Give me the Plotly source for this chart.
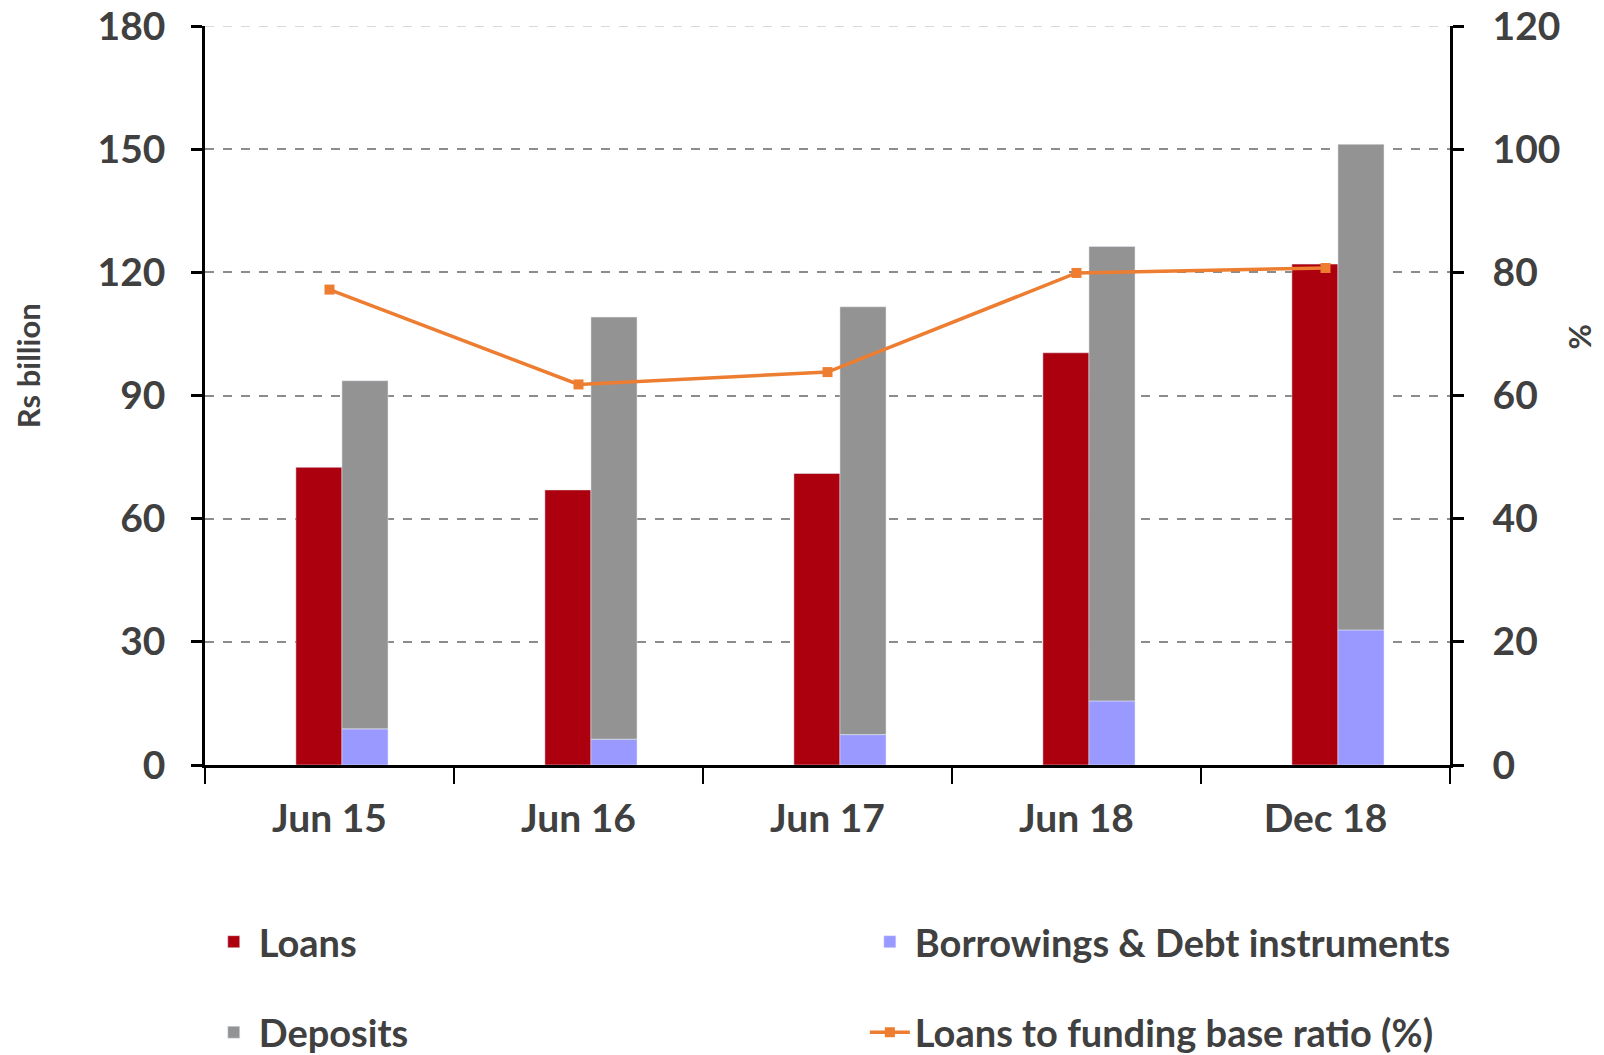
import plotly.graph_objects as go

categories = ["Jun 15", "Jun 16", "Jun 17", "Jun 18", "Dec 18"]
loans = [72.5, 67.0, 71.0, 100.4, 122.0]
borrowings = [8.8, 6.3, 7.4, 15.6, 32.9]
deposits = [84.8, 102.8, 104.2, 110.7, 118.3]
ratio = [77.2, 61.8, 63.8, 79.9, 80.7]

left_ticks = [0, 30, 60, 90, 120, 150, 180]
right_ticks = [0, 20, 40, 60, 80, 100, 120]

FONT = "Lato"
TXT = "#404040"
BW = 0.185
SHIFT = 0.05

fig = go.Figure()
fig.add_trace(go.Bar(x=categories, y=loans, name="Loans", marker_color="#AC000F",
                     width=BW, offset=-BW + SHIFT, legend="legend"))
fig.add_trace(go.Bar(x=categories, y=borrowings, name="Borrowings & Debt instruments",
                     marker_color="#9999FF", width=BW, offset=SHIFT, legend="legend2"))
fig.add_trace(go.Bar(x=categories, y=deposits, base=borrowings, name="Deposits",
                     marker_color="#939393", width=BW, offset=SHIFT, legend="legend3"))
fig.add_trace(go.Scatter(x=categories, y=ratio, name="Loans to funding base ratio (%)",
                         yaxis="y2", mode="lines+markers",
                         line=dict(color="#ED7D31", width=3.5),
                         marker=dict(symbol="square", size=10, color="#ED7D31"),
                         legend="legend4"))

tickfont = dict(family=FONT, size=39, color=TXT, weight="bold")
legfont = dict(family=FONT, size=38, color=TXT, weight="bold")


def leg(x, y):
    return dict(orientation="h", x=x, xanchor="left", y=y, yanchor="middle",
                bgcolor="rgba(0,0,0,0)", font=legfont, itemwidth=40, visible=True)


fig.update_layout(
    width=1604, height=1055,
    barmode="overlay",
    showlegend=True,
    paper_bgcolor="white", plot_bgcolor="white",
    margin=dict(l=205, r=154, t=26, b=290, autoexpand=False),
    font=dict(family=FONT, color=TXT, size=36, weight="bold"),
    xaxis=dict(
        type="category", showline=True, linecolor="black", linewidth=2.5,
        ticks="outside", tickson="boundaries", ticklen=16, tickwidth=2, tickcolor="black",
        showgrid=False, ticklabelstandoff=17, automargin=False,
        tickfont=tickfont,
    ),
    yaxis=dict(
        range=[0, 180], tickvals=left_ticks, showline=True, linecolor="black", linewidth=2.5,
        ticks="outside", ticklen=11, tickwidth=2.5, tickcolor="black",
        showgrid=True, gridcolor="#8C8C8C", griddash="dash", gridwidth=1.8,
        zeroline=False, ticklabelstandoff=18, automargin=False,
        tickfont=tickfont,
    ),
    yaxis2=dict(
        range=[0, 120], tickvals=right_ticks, overlaying="y", side="right",
        showline=True, linecolor="black", linewidth=2.5,
        ticks="outside", ticklen=11, tickwidth=2.5, tickcolor="black",
        showgrid=False, zeroline=False, ticklabelstandoff=21, automargin=False,
        tickfont=tickfont,
    ),
    legend=leg(0.003, -0.2395),
    legend2=leg(0.530, -0.2395),
    legend3=leg(0.003, -0.362),
    legend4=leg(0.530, -0.362),
    shapes=[
        dict(type="line", xref="paper", yref="y", x0=0, x1=1,
             y0=left_ticks[-1], y1=left_ticks[-1],
             line=dict(color="#D9D9D9", width=1.8, dash="dash"), layer="below"),
    ],
    annotations=[
        dict(text="Rs billion", xref="paper", yref="paper", x=-0.142, y=0.54,
             textangle=-90, showarrow=False, xanchor="center", yanchor="middle",
             font=dict(family=FONT, size=31, color=TXT, weight="bold")),
        dict(text="%", xref="paper", yref="paper", x=1.104, y=0.579,
             textangle=-90, showarrow=False, xanchor="center", yanchor="middle",
             font=dict(family=FONT, size=31, color=TXT, weight="bold")),
    ],
)

fig.write_html("out.html", config={"displayModeBar": False},
               post_script="document.body.style.margin='0';document.body.style.overflow='hidden';")
